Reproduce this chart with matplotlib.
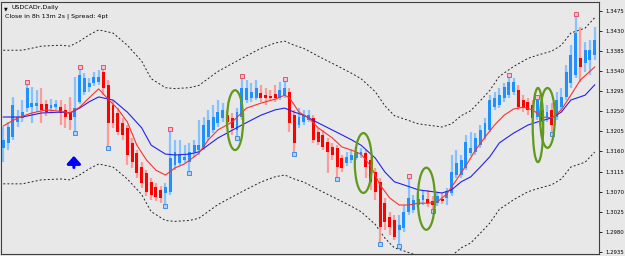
import matplotlib
matplotlib.use('Agg')
import matplotlib.pyplot as plt
from matplotlib.patches import Ellipse
import numpy as np

# ---------------- data (USDCAD daily) ----------------
opens = [1.3168, 1.3179, 1.3192, 1.3226, 1.3235, 1.3257, 1.3259, 1.3262, 1.3266, 1.3266,
         1.3257, 1.3259, 1.3259, 1.3253, 1.3248, 1.3237, 1.3271, 1.3293, 1.3304, 1.3313,
         1.3315, 1.3338, 1.3309, 1.3264, 1.3246, 1.3224, 1.3213, 1.3179, 1.3156, 1.3125,
         1.3112, 1.3092, 1.3081, 1.3074, 1.3067, 1.3069, 1.3130, 1.3134, 1.3141, 1.3136,
         1.3159, 1.3163, 1.3170, 1.3192, 1.3208, 1.3224, 1.3235, 1.3241, 1.3235, 1.3208,
         1.3237, 1.3275, 1.3280, 1.3280, 1.3291, 1.3286, 1.3284, 1.3288, 1.3280, 1.3286,
         1.3293, 1.3241, 1.3219, 1.3226, 1.3230, 1.3235, 1.3204, 1.3197, 1.3181, 1.3170,
         1.3168, 1.3145, 1.3134, 1.3141, 1.3145, 1.3152, 1.3156, 1.3141, 1.3114, 1.3092,
         1.3044, 1.3013, 1.3006, 1.2984, 1.2989, 1.3025, 1.3029, 1.3040, 1.3051, 1.3054,
         1.3049, 1.3044, 1.3054, 1.3056, 1.3067, 1.3107, 1.3107, 1.3123, 1.3156, 1.3159,
         1.3174, 1.3190, 1.3208, 1.3259, 1.3264, 1.3280, 1.3286, 1.3293, 1.3297, 1.3275,
         1.3271, 1.3264, 1.3237, 1.3253, 1.3237, 1.3253, 1.3237, 1.3259, 1.3282, 1.3313,
         1.3331, 1.3369, 1.3358, 1.3365, 1.3376]
closes = [1.3186, 1.3215, 1.3264, 1.3237, 1.3248, 1.3302, 1.3268, 1.3268, 1.3253, 1.3248,
          1.3264, 1.3266, 1.3246, 1.3237, 1.3230, 1.3257, 1.3331, 1.3324, 1.3313, 1.3327,
          1.3327, 1.3302, 1.3224, 1.3224, 1.3204, 1.3197, 1.3152, 1.3136, 1.3112, 1.3089,
          1.3069, 1.3062, 1.3058, 1.3056, 1.3081, 1.3145, 1.3159, 1.3152, 1.3148, 1.3159,
          1.3174, 1.3174, 1.3219, 1.3230, 1.3237, 1.3248, 1.3253, 1.3226, 1.3213, 1.3248,
          1.3302, 1.3302, 1.3293, 1.3302, 1.3280, 1.3280, 1.3280, 1.3280, 1.3297, 1.3302,
          1.3224, 1.3179, 1.3237, 1.3241, 1.3241, 1.3186, 1.3181, 1.3170, 1.3159, 1.3152,
          1.3125, 1.3123, 1.3148, 1.3152, 1.3159, 1.3159, 1.3125, 1.3092, 1.3069, 1.2991,
          1.3002, 1.2991, 1.2968, 1.2995, 1.3025, 1.3056, 1.3051, 1.3054, 1.3062, 1.3044,
          1.3040, 1.3060, 1.3049, 1.3069, 1.3114, 1.3134, 1.3141, 1.3181, 1.3168, 1.3190,
          1.3208, 1.3224, 1.3275, 1.3280, 1.3286, 1.3304, 1.3315, 1.3315, 1.3259, 1.3257,
          1.3253, 1.3235, 1.3275, 1.3230, 1.3248, 1.3219, 1.3275, 1.3282, 1.3338, 1.3376,
          1.3425, 1.3349, 1.3387, 1.3387, 1.3409]
highs = [1.3215, 1.3226, 1.3282, 1.3253, 1.3275, 1.3313, 1.3304, 1.3297, 1.3302, 1.3275,
         1.3277, 1.3275, 1.3275, 1.3266, 1.3282, 1.3327, 1.3347, 1.3335, 1.3324, 1.3338,
         1.3342, 1.3347, 1.3320, 1.3275, 1.3257, 1.3235, 1.3219, 1.3190, 1.3163, 1.3136,
         1.3118, 1.3101, 1.3089, 1.3083, 1.3089, 1.3208, 1.3186, 1.3186, 1.3174, 1.3179,
         1.3186, 1.3230, 1.3237, 1.3253, 1.3264, 1.3275, 1.3268, 1.3253, 1.3246, 1.3257,
         1.3327, 1.3320, 1.3313, 1.3320, 1.3309, 1.3302, 1.3297, 1.3309, 1.3315, 1.3320,
         1.3302, 1.3253, 1.3257, 1.3253, 1.3253, 1.3241, 1.3213, 1.3208, 1.3190, 1.3179,
         1.3174, 1.3152, 1.3159, 1.3163, 1.3170, 1.3168, 1.3163, 1.3148, 1.3123, 1.3101,
         1.3056, 1.3025, 1.3018, 1.3018, 1.3040, 1.3103, 1.3062, 1.3067, 1.3074, 1.3074,
         1.3060, 1.3069, 1.3067, 1.3078, 1.3152, 1.3163, 1.3152, 1.3197, 1.3204, 1.3201,
         1.3219, 1.3235, 1.3286, 1.3293, 1.3302, 1.3313, 1.3329, 1.3324, 1.3309, 1.3286,
         1.3280, 1.3275, 1.3280, 1.3264, 1.3264, 1.3268, 1.3293, 1.3302, 1.3353, 1.3398,
         1.3465, 1.3439, 1.3405, 1.3409, 1.3439]
lows = [1.3136, 1.3163, 1.3186, 1.3215, 1.3226, 1.3248, 1.3224, 1.3248, 1.3224, 1.3239,
        1.3246, 1.3253, 1.3219, 1.3213, 1.3208, 1.3204, 1.3266, 1.3286, 1.3293, 1.3306,
        1.3309, 1.3286, 1.3170, 1.3213, 1.3197, 1.3186, 1.3130, 1.3123, 1.3101, 1.3078,
        1.3060, 1.3051, 1.3049, 1.3044, 1.3040, 1.3062, 1.3118, 1.3128, 1.3134, 1.3114,
        1.3148, 1.3152, 1.3163, 1.3186, 1.3201, 1.3215, 1.3226, 1.3219, 1.3197, 1.3192,
        1.3230, 1.3268, 1.3271, 1.3275, 1.3271, 1.3264, 1.3275, 1.3271, 1.3275, 1.3280,
        1.3204, 1.3156, 1.3213, 1.3219, 1.3226, 1.3179, 1.3174, 1.3163, 1.3112, 1.3141,
        1.3101, 1.3114, 1.3128, 1.3134, 1.3141, 1.3145, 1.3101, 1.3074, 1.3051, 1.2955,
        1.2984, 1.2973, 1.2962, 1.2950, 1.2980, 1.3018, 1.3022, 1.3033, 1.3040, 1.3036,
        1.3029, 1.3038, 1.3042, 1.3040, 1.3060, 1.3101, 1.3101, 1.3118, 1.3150, 1.3152,
        1.3168, 1.3186, 1.3204, 1.3253, 1.3257, 1.3271, 1.3280, 1.3286, 1.3253, 1.3248,
        1.3241, 1.3226, 1.3230, 1.3219, 1.3226, 1.3201, 1.3230, 1.3253, 1.3275, 1.3302,
        1.3324, 1.3315, 1.3338, 1.3331, 1.3365]

# fast (red) moving average, read at these bars
red_ma_idx = [0, 3, 6, 9, 12, 14, 16, 18, 20, 22, 24, 26, 28, 30, 32, 34, 36, 38, 41, 43,
              45, 48, 51, 54, 57, 59, 60, 62, 64, 66, 69, 71, 73, 75, 77, 79, 81, 83, 85, 87,
              89, 91, 93, 95, 97, 99, 101, 103, 105, 107, 109, 111, 113, 115, 117, 119, 121, 124]
red_ma = [1.3217, 1.3235, 1.3246, 1.3253, 1.3250, 1.3246, 1.3259, 1.3280, 1.3300, 1.3277,
          1.3255, 1.3226, 1.3174, 1.3141, 1.3118, 1.3107, 1.3123, 1.3132, 1.3156, 1.3186,
          1.3208, 1.3226, 1.3257, 1.3268, 1.3277, 1.3286, 1.3280, 1.3248, 1.3235, 1.3213,
          1.3190, 1.3170, 1.3163, 1.3154, 1.3128, 1.3085, 1.3056, 1.3040, 1.3040, 1.3044,
          1.3044, 1.3047, 1.3065, 1.3096, 1.3128, 1.3163, 1.3192, 1.3219, 1.3241, 1.3255,
          1.3259, 1.3253, 1.3237, 1.3235, 1.3253, 1.3286, 1.3320, 1.3349]

# slow (blue) moving average, read at these bars
blue_ma_idx = [0, 4, 8, 12, 14, 16, 18, 20, 23, 26, 29, 31, 34, 36, 39, 41, 45, 50, 54, 57,
               59, 61, 63, 66, 71, 73, 75, 78, 80, 82, 84, 87, 92, 94, 96, 98, 100, 102, 104,
               107, 110, 112, 115, 117, 119, 122, 124]
blue_ma = [1.3237, 1.3237, 1.3246, 1.3248, 1.3246, 1.3257, 1.3271, 1.3282, 1.3275, 1.3248,
           1.3213, 1.3174, 1.3154, 1.3152, 1.3154, 1.3159, 1.3190, 1.3219, 1.3241, 1.3253,
           1.3257, 1.3248, 1.3241, 1.3224, 1.3197, 1.3186, 1.3174, 1.3145, 1.3114, 1.3092,
           1.3085, 1.3074, 1.3067, 1.3074, 1.3092, 1.3103, 1.3125, 1.3148, 1.3179, 1.3201,
           1.3219, 1.3226, 1.3235, 1.3248, 1.3275, 1.3286, 1.3309]
envelope_pct = 1.13

# Bill Williams fractals
fractal_up = [5, 16, 21, 35, 50, 59, 85, 106, 112, 120]
fractal_down = [15, 22, 34, 39, 49, 61, 70, 79, 83, 90, 115]

# highlighted zones (bar, price, width in bars, height in price)
zones = [(48.6, 1.3230, 3.4, 0.0134),
         (75.5, 1.3134, 3.6, 0.0134),
         (88.7, 1.3054, 3.6, 0.0139),
         (112.1, 1.3219, 2.2, 0.0166),
         (114.1, 1.3235, 3.1, 0.0134)]
arrow_bar, arrow_from, arrow_to = 14.8, 1.3124, 1.3150

tick_vals = [1.3475, 1.3430, 1.3385, 1.3340, 1.3295, 1.3250, 1.3205, 1.3160,
             1.3115, 1.3070, 1.3025, 1.2980, 1.2935]
tick_labels = ['%.4f' % v for v in tick_vals]

# ---------------- drawing ----------------
BG = '#e8e8e8'
fig = plt.figure(figsize=(6.25, 2.56), dpi=100)
fig.patch.set_facecolor(BG)
ax = fig.add_axes([1 / 625, 2 / 256, 598 / 625, 252 / 256])
ax.set_facecolor(BG)
ax.set_xlim(-0.48, 124.9)
ax.set_ylim(1.29303, 1.34945)

o = np.array(opens); c = np.array(closes); h = np.array(highs); l = np.array(lows)
x = np.arange(len(o))
bull = c >= o

# envelopes
bm = np.array(blue_ma)
ax.plot(blue_ma_idx, bm * (1 + envelope_pct / 100), color='#222222', lw=0.7,
        dashes=(2, 2.2), zorder=1)
ax.plot(blue_ma_idx, bm * (1 - envelope_pct / 100), color='#222222', lw=0.7,
        dashes=(2, 2.2), zorder=1)

# wicks
ax.vlines(x[bull], l[bull], h[bull], color='#86c2ff', lw=1.6, zorder=2)
ax.vlines(x[~bull], l[~bull], h[~bull], color='#ff9a9a', lw=1.6, zorder=2)
# bodies
body_lo = np.minimum(o, c)
body_h = np.maximum(np.abs(c - o), 0.00012)
ax.bar(x[bull], body_h[bull], bottom=body_lo[bull], width=0.62, color='#1e90ff',
       linewidth=0, zorder=3)
ax.bar(x[~bull], body_h[~bull], bottom=body_lo[~bull], width=0.62, color='#ff0000',
       linewidth=0, zorder=3)

# moving averages
ax.plot(blue_ma_idx, blue_ma, color='#2323e8', lw=0.8, zorder=4)
ax.plot(red_ma_idx, red_ma, color='#ff3030', lw=0.8, zorder=4)

# fractals
ax.plot(fractal_up, h[fractal_up] + 0.0002, ls='none', marker='s', ms=2.6,
        mfc='#ffc0cc', mec='#e0405a', mew=0.6, zorder=5)
ax.plot(fractal_down, l[fractal_down] - 0.0002, ls='none', marker='s', ms=2.6,
        mfc='#a8d4ff', mec='#3080e0', mew=0.6, zorder=5)

# zones
for cx, cy, w, hh in zones:
    ax.add_patch(Ellipse((cx, cy), w, hh, fill=False, ec='#5f9a1c', lw=1.6, zorder=6))

# arrow
ax.annotate('', xy=(arrow_bar, arrow_to), xytext=(arrow_bar, arrow_from),
            arrowprops=dict(arrowstyle='-|>,head_width=0.45,head_length=0.5',
                            color='#0000ff', lw=2.2, mutation_scale=9,
                            shrinkA=0, shrinkB=0), zorder=6)

# axes styling
ax.set_xticks([])
ax.yaxis.tick_right()
ax.set_yticks(tick_vals)
ax.set_yticklabels(tick_labels, fontsize=3.9, family='DejaVu Sans')
ax.tick_params(axis='y', length=2.5, width=0.6, pad=2, colors='#000000')
for s in ax.spines.values():
    s.set_color('#404040')
    s.set_linewidth(0.8)

# header texts
fig.text(4 / 625, 1 - 8.5 / 256, '\u25bc', fontsize=3.5, color='#000000', va='center')
fig.text(12 / 625, 1 - 8 / 256, 'USDCADr,Daily', fontsize=4.5, color='#000000', va='center')
fig.text(5 / 625, 1 - 16 / 256, 'Close in 8h 13m 2s | Spread: 4pt', fontsize=4.5,
         color='#000000', va='center')

fig.savefig('out.png', dpi=100, facecolor=BG)
